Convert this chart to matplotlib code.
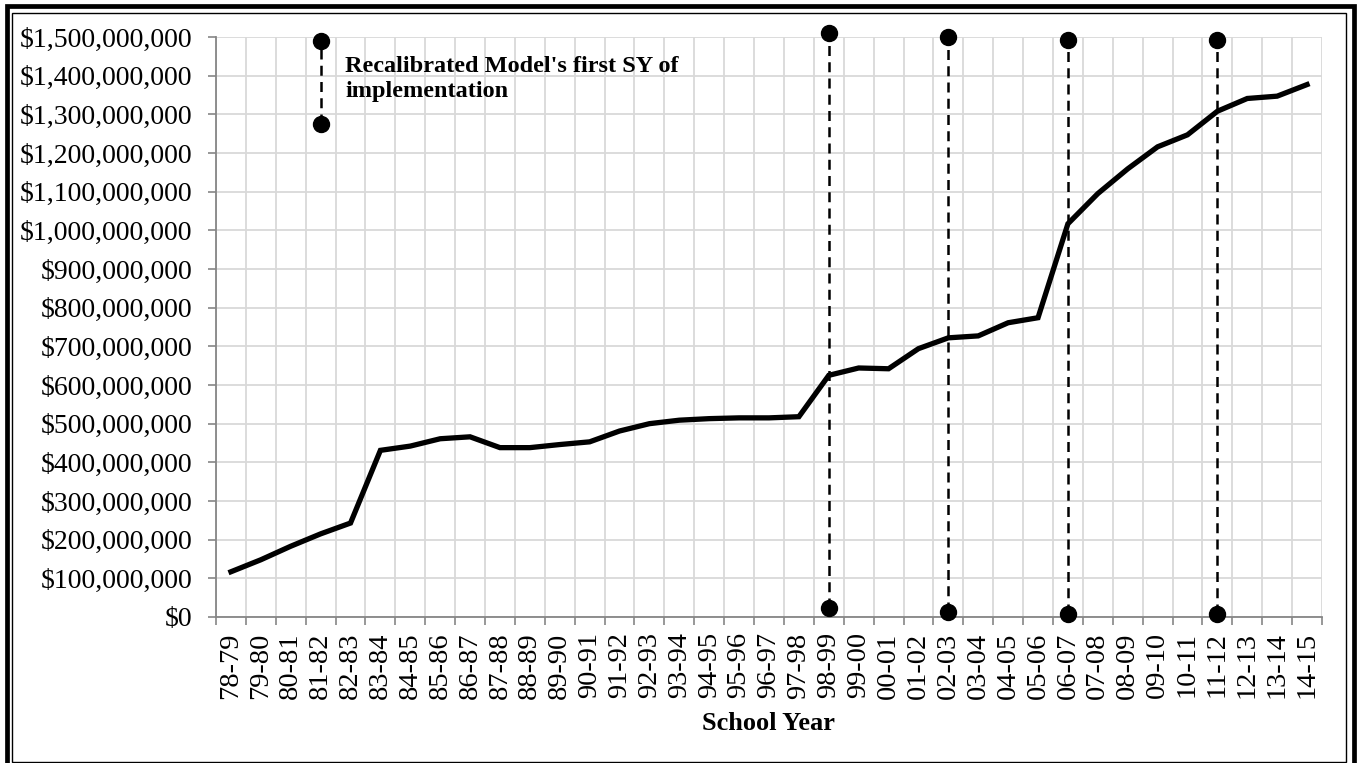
import matplotlib.pyplot as plt
from matplotlib.patches import Rectangle
from matplotlib.ticker import FuncFormatter
import numpy as np

plt.rcParams['font.family'] = ['Liberation Serif', 'DejaVu Serif']

# School years on the x axis
years = ['78-79', '79-80', '80-81', '81-82', '82-83', '83-84', '84-85', '85-86',
         '86-87', '87-88', '88-89', '89-90', '90-91', '91-92', '92-93', '93-94',
         '94-95', '95-96', '96-97', '97-98', '98-99', '99-00', '00-01', '01-02',
         '02-03', '03-04', '04-05', '05-06', '06-07', '07-08', '08-09', '09-10',
         '10-11', '11-12', '12-13', '13-14', '14-15']

# Funding, millions of dollars
funding = [117, 148, 183, 215, 243, 431, 442, 461, 466, 438, 438, 446, 453,
           481, 500, 509, 513, 515, 515, 518, 625, 644, 642, 694, 722, 727,
           761, 774, 1017, 1095, 1159, 1216, 1247, 1308, 1341, 1347, 1377]

# Recalibrated model: first school year of implementation
recal_years = ['98-99', '02-03', '06-07', '11-12']
recal_low = [22, 14, 9, 9]
recal_high = [1510, 1500, 1493, 1493]

# Key marker drawn beside the note
key_year = '81-82'
key_low, key_high = 1276, 1490
note = "Recalibrated Model's first SY of\nimplementation"

M = 1e6
x = np.arange(len(years))
pos = {y: i for i, y in enumerate(years)}

fig = plt.figure(figsize=(13.58, 7.63), dpi=100)
ax = fig.add_axes([216/1358, 1 - 617/763, (1322 - 216)/1358, (617 - 37)/763])

ax.plot(x, np.array(funding)*M, color='black', linewidth=3.8,
        solid_joinstyle='miter', zorder=3)

for yr, lo, hi in zip(recal_years, recal_low, recal_high):
    ax.plot([pos[yr], pos[yr]], [lo*M, hi*M], '--', color='black', linewidth=1.8,
            dashes=(4, 2.5), marker='o', markersize=11.5, clip_on=False, zorder=4)

ax.plot([pos[key_year]]*2, [key_low*M, key_high*M], '--', color='black',
        linewidth=1.8, dashes=(4, 2.5), marker='o', markersize=11.5,
        clip_on=False, zorder=4)
ax.text(pos[key_year] + 0.82, 1.45e9, note, fontsize=17.5, fontweight='bold',
        va='top', ha='left', linespacing=1.2)

ax.set_xlim(-0.5, len(years) - 0.5)
ax.set_ylim(0, 1.5e9)
ax.set_yticks(np.arange(0, 1.5e9 + 1, 1e8))
ax.yaxis.set_major_formatter(FuncFormatter(lambda v, p: '${:,.0f}'.format(v)))
ax.set_xticks(x)
ax.set_xticklabels(years, rotation=90)
ax.set_xticks(np.arange(-0.5, len(years)), minor=True)

ax.tick_params(axis='x', which='major', length=0, pad=11, labelsize=20.5)
ax.tick_params(axis='x', which='minor', length=6, width=1.2, color='#868686')
ax.tick_params(axis='y', length=6, width=1.2, color='#868686', pad=11, labelsize=20)

ax.grid(axis='y', which='major', color='#d9d9d9', linewidth=1.3)
ax.grid(axis='x', which='minor', color='#d9d9d9', linewidth=1.3)
ax.set_axisbelow(True)
for s in ['top', 'right']:
    ax.spines[s].set_visible(False)
for s in ['left', 'bottom']:
    ax.spines[s].set_color('#868686')
    ax.spines[s].set_linewidth(1.3)

fig.text(769/1358, 1 - 723/763, 'School Year', fontsize=19, fontweight='bold',
         ha='center', va='center')

# double border round the chart
fig.patches.append(Rectangle((6.5/1358, -0.02), (1354 - 6.5)/1358, 1.02 - 6.5/763,
                             transform=fig.transFigure, fill=False,
                             edgecolor='black', linewidth=3.4))
fig.patches.append(Rectangle((12/1358, 1.5/763), (1346 - 12)/1358, (761 - 12)/763,
                             transform=fig.transFigure, fill=False,
                             edgecolor='black', linewidth=1.0))

plt.savefig('out.png', dpi=100)
